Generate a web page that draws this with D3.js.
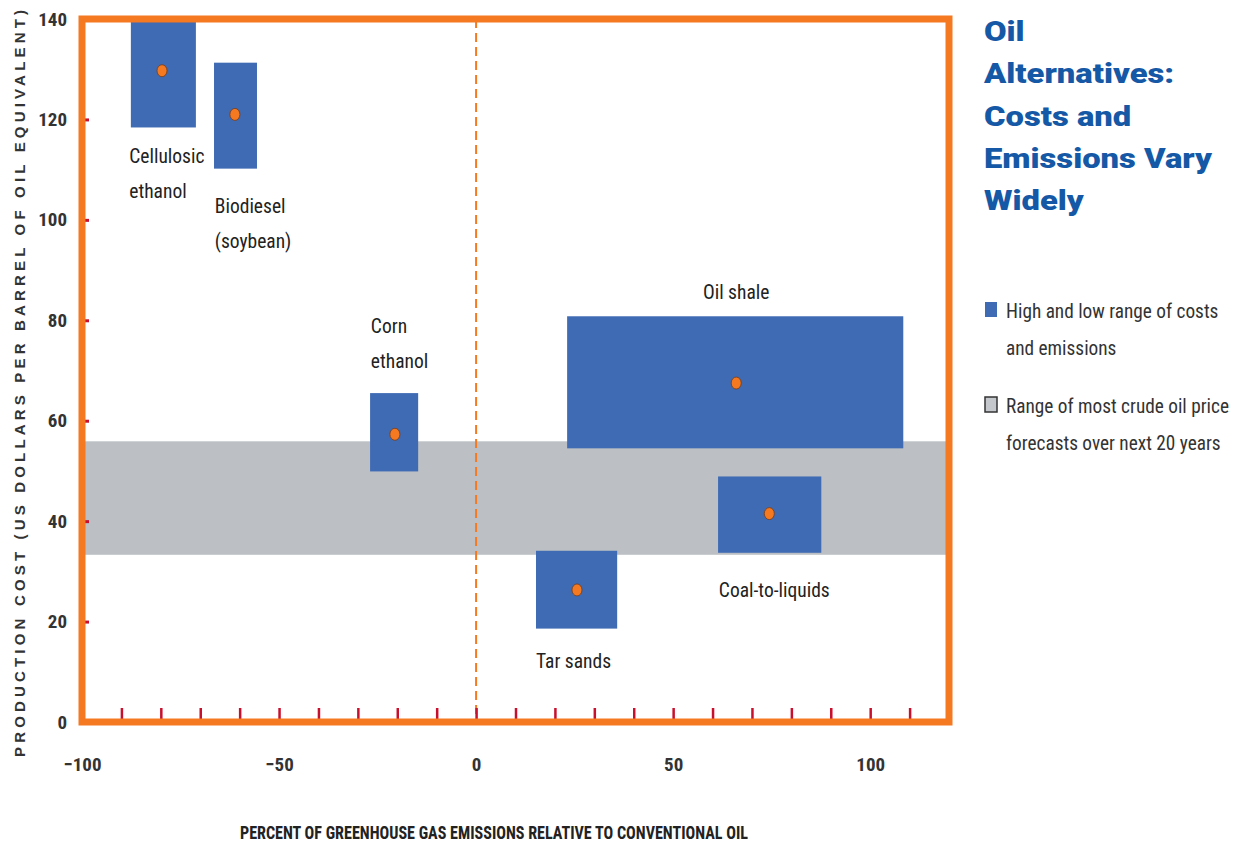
<!DOCTYPE html>
<html>
<head>
<meta charset="utf-8">
<script src="https://cdn.jsdelivr.net/npm/d3@7"></script>
<style>
  body { margin: 0; background: #fff; }
  svg { display: block; }
  .narrow { font-family: "Roboto Condensed", "Liberation Sans Narrow", "DejaVu Sans Condensed", sans-serif; }
</style>
</head>
<body>
<svg width="1244" height="845"></svg>
<script>
// fuel alternatives: emission range (x, %) and cost range (y, $/bbl), plus midpoint
const fuels = ['Cellulosic ethanol', 'Biodiesel (soybean)', 'Corn ethanol', 'Oil shale', 'Coal-to-liquids', 'Tar sands'];
const xLow  = [-87.6, -66.5, -26.9, 23.1, 61.4, 15.2];
const xHigh = [-71.1, -55.6, -14.7, 108.4, 87.6, 35.8];
const yLow  = [118.4, 110.2, 49.9, 54.5, 33.7, 18.6];
const yHigh = [142, 131.3, 65.5, 80.8, 48.9, 34.1];
const xMid  = [-79.7, -61.2, -20.6, 66, 74.4, 25.6];
const yMid  = [129.7, 121, 57.3, 67.5, 41.5, 26.3];

// crude oil price forecast band
const forecastLow = 33.3;
const forecastHigh = 55.9;

const xLabelTicks = [-100, -50, 0, 50, 100];
const xMinorTicks = [-90, -80, -70, -60, -50, -40, -30, -20, -10, 0, 10, 20, 30, 40, 50, 60, 70, 80, 90, 100, 110];
const yLabelTicks = [0, 20, 40, 60, 80, 100, 120, 140];
const yMinorTicks = [20, 40, 60, 80, 100, 120];

const orange = '#f47920';
const blue = '#3f6bb4';
const red = '#c8102e';

const svg = d3.select('svg');

const x = d3.scaleLinear().domain([-100, 120]).range([82, 949]);
const y = d3.scaleLinear().domain([0, 140]).range([722, 19]);

svg.append('defs').append('clipPath').attr('id', 'plot')
    .append('rect')
    .attr('x', x(-100)).attr('y', y(140))
    .attr('width', x(120) - x(-100)).attr('height', y(0) - y(140));

const plot = svg.append('g').attr('clip-path', 'url(#plot)');

// forecast band
plot.append('rect')
    .attr('x', x(-100))
    .attr('width', x(120) - x(-100))
    .attr('y', y(forecastHigh))
    .attr('height', y(forecastLow) - y(forecastHigh))
    .attr('fill', '#bcc0c4');

// zero line
plot.append('line')
    .attr('x1', x(0)).attr('x2', x(0))
    .attr('y1', y(140)).attr('y2', y(0))
    .attr('stroke', orange)
    .attr('stroke-width', 2)
    .attr('stroke-dasharray', '9,5');

const rows = fuels.map((f, i) => ({ name: f, x0: xLow[i], x1: xHigh[i], y0: yLow[i], y1: yHigh[i], cx: xMid[i], cy: yMid[i] }));

plot.selectAll('rect.range')
    .data(rows)
    .enter().append('rect')
    .attr('class', 'range')
    .attr('x', d => x(d.x0))
    .attr('y', d => y(d.y1))
    .attr('width', d => x(d.x1) - x(d.x0))
    .attr('height', d => y(d.y0) - y(d.y1))
    .attr('fill', blue);

plot.selectAll('ellipse.mid')
    .data(rows)
    .enter().append('ellipse')
    .attr('class', 'mid')
    .attr('cx', d => x(d.cx))
    .attr('cy', d => y(d.cy))
    .attr('rx', 5)
    .attr('ry', 6)
    .attr('fill', orange)
    .attr('stroke', '#7a3a12')
    .attr('stroke-width', 0.8);

// minor red ticks
svg.append('g')
    .attr('transform', `translate(0,${y(0)})`)
    .call(d3.axisBottom(x).tickValues(xMinorTicks).tickSizeInner(-14).tickSizeOuter(0).tickFormat(''))
    .call(g => g.select('.domain').remove())
    .call(g => g.selectAll('line').attr('stroke', red).attr('stroke-width', 2.5));

svg.append('g')
    .attr('transform', `translate(${x(-100)},0)`)
    .call(d3.axisLeft(y).tickValues(yMinorTicks).tickSizeInner(-7).tickSizeOuter(0).tickFormat(''))
    .call(g => g.select('.domain').remove())
    .call(g => g.selectAll('line').attr('stroke', red).attr('stroke-width', 3));

// tick labels
svg.append('g')
    .attr('transform', `translate(0,${y(0)})`)
    .call(d3.axisBottom(x).tickValues(xLabelTicks).tickSize(0).tickPadding(36).tickFormat(d3.format('d')))
    .call(g => g.select('.domain').remove())
    .call(g => g.selectAll('text')
        .attr('class', 'narrow')
        .attr('font-size', 19)
        .attr('font-weight', 'bold')
        .attr('fill', '#333'));

svg.append('g')
    .attr('transform', `translate(${x(-100)},0)`)
    .call(d3.axisLeft(y).tickValues(yLabelTicks).tickSize(0).tickPadding(15))
    .call(g => g.select('.domain').remove())
    .call(g => g.selectAll('text')
        .attr('class', 'narrow')
        .attr('font-size', 19)
        .attr('font-weight', 'bold')
        .attr('fill', '#333'));

// frame
svg.append('rect')
    .attr('x', x(-100)).attr('y', y(140))
    .attr('width', x(120) - x(-100)).attr('height', y(0) - y(140))
    .attr('fill', 'none')
    .attr('stroke', orange)
    .attr('stroke-width', 7);

// fuel labels
const labels = [
    { lines: ['Cellulosic', 'ethanol'], x: -88, y: 111.4, anchor: 'start' },
    { lines: ['Biodiesel', '(soybean)'], x: -66.3, y: 101.4, anchor: 'start' },
    { lines: ['Corn', 'ethanol'], x: -26.7, y: 77.5, anchor: 'start' },
    { lines: ['Oil shale'], x: 66, y: 84.2, anchor: 'middle' },
    { lines: ['Coal-to-liquids'], x: 61.6, y: 24.8, anchor: 'start' },
    { lines: ['Tar sands'], x: 15.2, y: 10.8, anchor: 'start' }
];

labels.forEach(l => {
    const t = svg.append('text')
        .attr('class', 'narrow')
        .attr('x', x(l.x))
        .attr('y', y(l.y))
        .attr('font-size', 19.5)
        .attr('fill', '#222')
        .attr('text-anchor', l.anchor);
    l.lines.forEach((s, i) => {
        t.append('tspan').attr('x', x(l.x)).attr('dy', i === 0 ? 0 : 35).text(s);
    });
});

// axis titles
svg.append('text')
    .attr('class', 'narrow')
    .attr('x', 240)
    .attr('y', 839)
    .attr('font-size', 19)
    .attr('font-weight', 'bold')
    .attr('fill', '#222')
    .attr('textLength', 508)
    .attr('lengthAdjust', 'spacingAndGlyphs')
    .text('PERCENT OF GREENHOUSE GAS EMISSIONS RELATIVE TO CONVENTIONAL OIL');

svg.append('text')
    .attr('transform', 'translate(25,757) rotate(-90)')
    .attr('font-family', 'Arial, "Liberation Sans", sans-serif')
    .attr('font-size', 15)
    .attr('font-weight', 'bold')
    .attr('fill', '#333')
    .attr('textLength', 747)
    .attr('lengthAdjust', 'spacing')
    .text('PRODUCTION COST (US DOLLARS PER BARREL OF OIL EQUIVALENT)');

// title
const titleLines = ['Oil', 'Alternatives:', 'Costs and', 'Emissions Vary', 'Widely'];
svg.append('g')
    .attr('transform', 'translate(984,0) scale(1.17,1)')
    .selectAll('text')
    .data(titleLines)
    .enter().append('text')
    .attr('x', 0)
    .attr('y', (d, i) => 41 + i * 42.3)
    .attr('font-family', 'Roboto, Arial, sans-serif')
    .attr('font-size', 28)
    .attr('font-weight', 900)
    .attr('fill', '#1458a6')
    .text(d => d);

// legend
const legend = [
    { lines: ['High and low range of costs', 'and emissions'], fill: blue, stroke: 'none', y: 300 },
    { lines: ['Range of most crude oil price', 'forecasts over next 20 years'], fill: '#c4c8cc', stroke: '#333', y: 395 }
];
legend.forEach(l => {
    svg.append('rect')
        .attr('x', 985).attr('y', l.y + 2)
        .attr('width', 12).attr('height', 15)
        .attr('fill', l.fill)
        .attr('stroke', l.stroke)
        .attr('stroke-width', 1.5);
    const t = svg.append('text')
        .attr('class', 'narrow')
        .attr('x', 1006)
        .attr('y', l.y + 18)
        .attr('font-size', 19.3)
        .attr('fill', '#333');
    l.lines.forEach((s, i) => {
        t.append('tspan').attr('x', 1006).attr('dy', i === 0 ? 0 : 37).text(s);
    });
});
</script>
</body>
</html>
